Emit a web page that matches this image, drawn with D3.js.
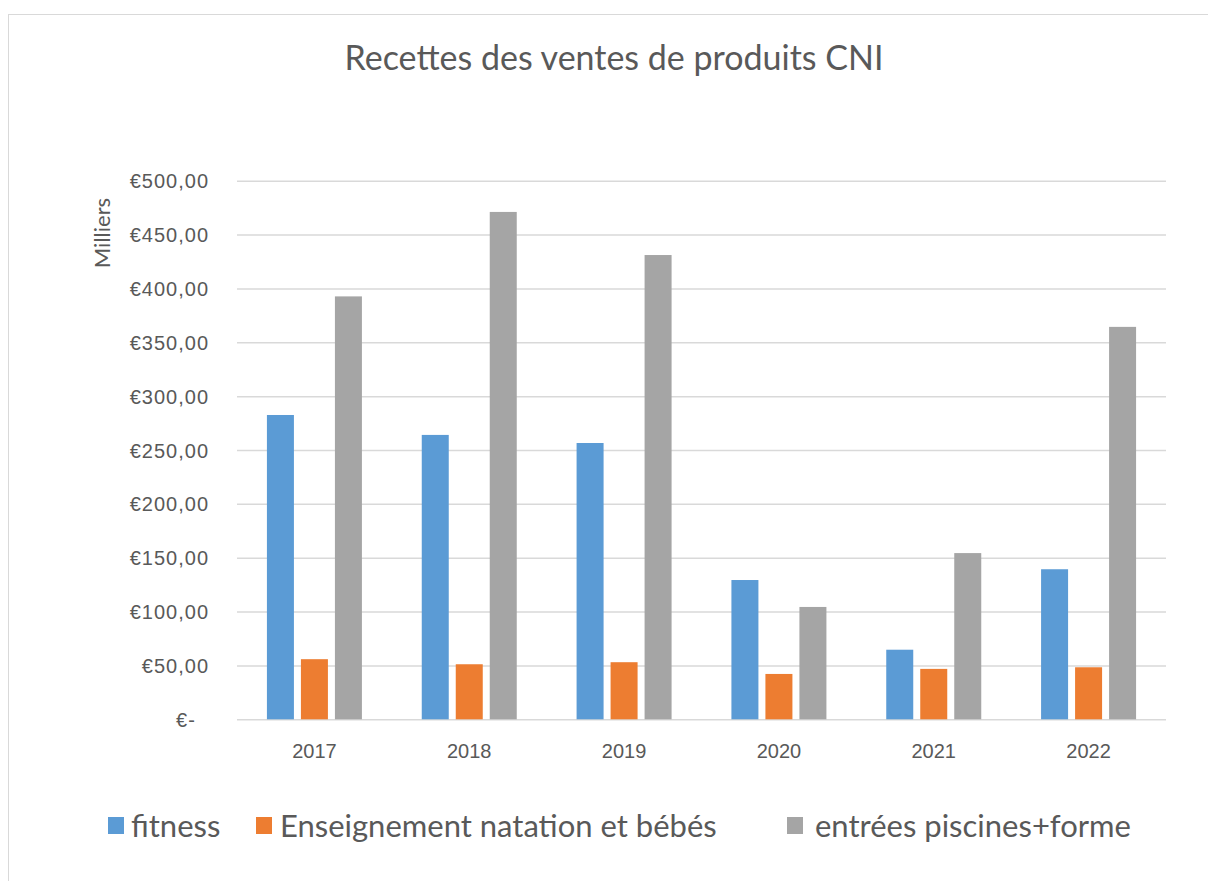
<!DOCTYPE html>
<html>
<head>
<meta charset="utf-8">
<script src="https://cdn.jsdelivr.net/npm/d3@7"></script>
<style>
  body { margin: 0; background: #fff; }
  svg { display: block; font-family: Lato, "Open Sans", sans-serif; }
</style>
</head>
<body>
<svg id="chart" width="1208" height="881"></svg>
<script>
'use strict';

// Data (thousands of euros)
var years = ['2017', '2018', '2019', '2020', '2021', '2022'];
var seriesNames = ['fitness', 'Enseignement natation et bébés', 'entrées piscines+forme'];
var fitness = [282.5, 264, 256.5, 129.3, 64.6, 139.3];
var enseignement = [55.8, 51.1, 53, 42.1, 46.8, 48.3];
var entrees = [392.6, 471, 431, 104.3, 154.3, 364.3];
var yTicks = [0, 50, 100, 150, 200, 250, 300, 350, 400, 450, 500];

var colors = ['#5b9bd5', '#ed7d31', '#a5a5a5'];
var textColor = '#595959';
var gridColor = '#d9d9d9';

var seriesValues = [fitness, enseignement, entrees];

var svg = d3.select('#chart');

// chart frame (cut off at right/bottom, as in the reference)
svg.append('rect')
  .attr('x', 8.5).attr('y', 14.5)
  .attr('width', 1220).attr('height', 900)
  .attr('fill', '#fff')
  .attr('stroke', gridColor)
  .attr('stroke-width', 1);

var plot = { left: 237, right: 1166, top: 180.7, bottom: 719.3 };

var x = d3.scaleBand()
  .domain(years)
  .range([plot.left, plot.right]);

var y = d3.scaleLinear()
  .domain([0, 500])
  .range([plot.bottom, plot.top]);

function euro(v) {
  if (v === 0) { return '€-\u00a0\u00a0'; }
  return '€' + d3.format('.2f')(v).replace('.', ',');
}

// y axis + gridlines
var yAxis = svg.append('g')
  .attr('transform', 'translate(' + plot.left + ',0)')
  .call(d3.axisLeft(y)
    .tickValues(yTicks)
    .tickSize(-(plot.right - plot.left))
    .tickPadding(28)
    .tickFormat(euro));
yAxis.select('.domain').remove();
yAxis.selectAll('line')
  .attr('stroke', gridColor)
  .attr('stroke-width', 1.5);
yAxis.selectAll('text')
  .attr('fill', textColor)
  .style('font-size', '20px')
  .style('letter-spacing', '1px')
  .style('white-space', 'pre')
  .attr('dy', '0.35em');

// bars
var barW = 27, gap = 7;
var groupW = barW * 3 + gap * 2;

var groups = svg.append('g').selectAll('g')
  .data(years)
  .enter().append('g')
  .attr('transform', function(d) {
    return 'translate(' + (x(d) + x.bandwidth() / 2 - groupW / 2) + ',0)';
  });

groups.selectAll('rect')
  .data(function(d, i) {
    return seriesValues.map(function(s, k) { return { k: k, v: s[i] }; });
  })
  .enter().append('rect')
  .attr('x', function(d) { return d.k * (barW + gap); })
  .attr('y', function(d) { return y(d.v); })
  .attr('width', barW)
  .attr('height', function(d) { return y(0) - y(d.v); })
  .attr('fill', function(d) { return colors[d.k]; });

// x axis labels
var xAxis = svg.append('g')
  .attr('transform', 'translate(0,' + plot.bottom + ')')
  .call(d3.axisBottom(x).tickSize(0).tickPadding(0));
xAxis.select('.domain').remove();
xAxis.selectAll('text')
  .attr('y', 38.5)
  .attr('dy', null)
  .attr('fill', textColor)
  .style('font-size', '20px');

// title
svg.append('text')
  .attr('x', 614).attr('y', 70)
  .attr('text-anchor', 'middle')
  .attr('fill', textColor)
  .style('font-size', '34px')
  .text('Recettes des ventes de produits CNI');

// y axis title
svg.append('text')
  .attr('transform', 'translate(110,233) rotate(-90)')
  .attr('text-anchor', 'middle')
  .attr('fill', textColor)
  .style('font-size', '22px')
  .text('Milliers');

// legend
var legendSwatchX = [108, 256, 787];
var legendTextX = [131, 280, 815];
var legend = svg.append('g').selectAll('g')
  .data(seriesNames)
  .enter().append('g');
legend.append('rect')
  .attr('x', function(d, i) { return legendSwatchX[i]; })
  .attr('y', 817)
  .attr('width', 16).attr('height', 17)
  .attr('fill', function(d, i) { return colors[i]; });
legend.append('text')
  .attr('x', function(d, i) { return legendTextX[i]; })
  .attr('y', 837)
  .attr('fill', textColor)
  .style('font-size', '31px')
  .text(function(d) { return d; });
</script>
</body>
</html>
